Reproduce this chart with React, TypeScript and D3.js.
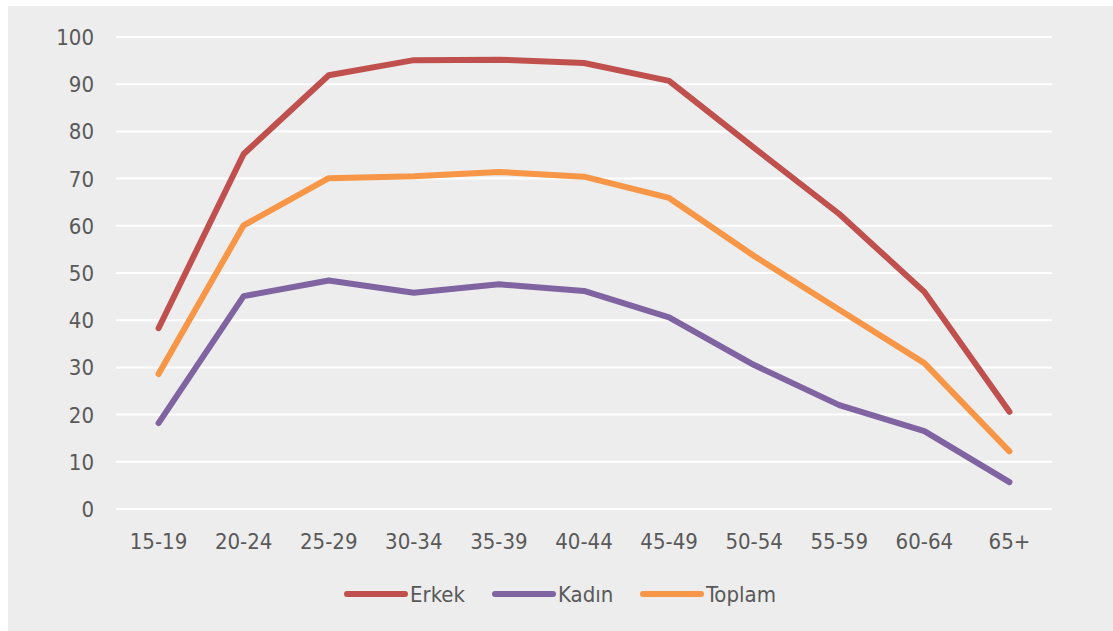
import React, { useRef, useEffect } from 'react';
import * as d3 from 'd3';

const ageGroups = ['15-19', '20-24', '25-29', '30-34', '35-39', '40-44', '45-49', '50-54', '55-59', '60-64', '65+'];
const erkek = [38.3, 75.2, 91.9, 95.1, 95.2, 94.5, 90.7, 76.5, 62.5, 46.0, 20.6];
const kadin = [18.2, 45.1, 48.4, 45.8, 47.6, 46.2, 40.6, 30.5, 22.0, 16.5, 5.7];
const toplam = [28.6, 60.1, 70.1, 70.5, 71.4, 70.4, 65.9, 53.6, 42.2, 30.9, 12.2];
const yTicks = [0, 10, 20, 30, 40, 50, 60, 70, 80, 90, 100];

const seriesNames = ['Erkek', 'Kadın', 'Toplam'];
const seriesColors = ['#C0504D', '#8064A2', '#F79646'];

const App = () => {
  const svgRef = useRef<SVGSVGElement>(null);

  useEffect(() => {
    const width = 1113;
    const height = 631;
    const margin = { top: 37, right: 61, bottom: 122, left: 116 };

    const svg = d3.select(svgRef.current)
      .attr('width', width)
      .attr('height', height)
      .style('position', 'absolute')
      .style('left', '0px')
      .style('top', '0px');

    svg.selectAll('*').remove();

    svg.append('rect')
      .attr('x', 8)
      .attr('y', 6)
      .attr('width', width - 8)
      .attr('height', height - 6)
      .attr('fill', '#ededed');

    const x = d3.scaleBand()
      .domain(ageGroups)
      .range([margin.left, width - margin.right]);

    const y = d3.scaleLinear()
      .domain([0, 100])
      .range([height - margin.bottom, margin.top]);

    const font = '"DejaVu Sans Condensed", "DejaVu Sans", Verdana, sans-serif';

    // gridlines
    svg.append('g')
      .selectAll('line')
      .data(yTicks)
      .join('line')
      .attr('x1', margin.left)
      .attr('x2', width - margin.right)
      .attr('y1', d => y(d))
      .attr('y2', d => y(d))
      .attr('stroke', '#ffffff')
      .attr('stroke-width', 2);

    // y labels
    svg.append('g')
      .selectAll('text')
      .data(yTicks)
      .join('text')
      .attr('x', 94)
      .attr('y', d => y(d))
      .attr('dy', '0.36em')
      .attr('text-anchor', 'end')
      .attr('font-family', font)
      .attr('font-size', 22)
      .attr('fill', '#595959')
      .text(d => d);

    // x labels
    svg.append('g')
      .selectAll('text')
      .data(ageGroups)
      .join('text')
      .attr('x', d => x(d)! + x.bandwidth() / 2)
      .attr('y', 549)
      .attr('text-anchor', 'middle')
      .attr('font-family', font)
      .attr('font-size', 22)
      .attr('fill', '#595959')
      .text(d => d);

    const line = d3.line<number>()
      .x((_, i) => x(ageGroups[i])! + x.bandwidth() / 2)
      .y(d => y(d));

    [erkek, kadin, toplam].forEach((values, i) => {
      svg.append('path')
        .datum(values)
        .attr('d', line)
        .attr('fill', 'none')
        .attr('stroke', seriesColors[i])
        .attr('stroke-width', 6)
        .attr('stroke-linecap', 'round')
        .attr('stroke-linejoin', 'round');
    });

    // legend
    const legend = svg.append('g');
    const legendX = [345, 493, 641];
    seriesNames.forEach((name, i) => {
      legend.append('line')
        .attr('x1', legendX[i] + 2)
        .attr('x2', legendX[i] + 60)
        .attr('y1', 594)
        .attr('y2', 594)
        .attr('stroke', seriesColors[i])
        .attr('stroke-width', 6)
        .attr('stroke-linecap', 'round');
      legend.append('text')
        .attr('x', legendX[i] + 65)
        .attr('y', 594)
        .attr('dy', '0.36em')
        .attr('font-family', font)
        .attr('font-size', 22)
        .attr('fill', '#595959')
        .text(name);
    });
  }, []);

  return <svg ref={svgRef}></svg>;
};

export default App;
